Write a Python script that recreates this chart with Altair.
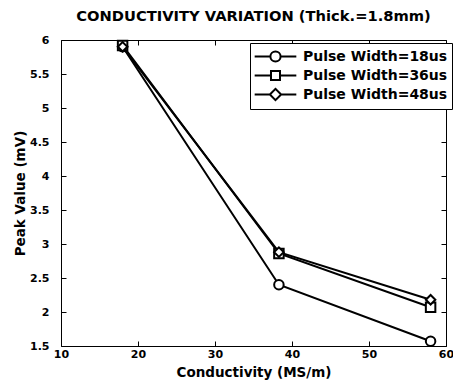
import altair as alt
import pandas as pd

conductivity = [18, 38.3, 58]
pw18 = [5.9, 2.40, 1.57]
pw36 = [5.92, 2.86, 2.07]
pw48 = [5.9, 2.88, 2.18]
series_names = ["Pulse Width=18us", "Pulse Width=36us", "Pulse Width=48us"]
x_ticks = [10, 20, 30, 40, 50, 60]
y_ticks = [1.5, 2, 2.5, 3, 3.5, 4, 4.5, 5, 5.5, 6]

rows = []
for name, vals in zip(series_names, [pw18, pw36, pw48]):
    for x, v in zip(conductivity, vals):
        rows.append({"cond": x, "peak": v, "series": name})
df = pd.DataFrame(rows)

FONT = "DejaVu Sans"
xscale = alt.Scale(domain=[10, 60], nice=False, zero=False)
yscale = alt.Scale(domain=[1.5, 6], nice=False, zero=False)

common = dict(domain=False, grid=False, offset=-5, tickSize=5, tickColor="black",
              tickWidth=1, labelFont=FONT, labelColor="black", labelFontSize=11,
              labelFontWeight="bold", titleFont=FONT, titleColor="black",
              titleFontSize=13.5, titleFontWeight="bold")

xaxis = alt.Axis(values=x_ticks, title="Conductivity (MS/m)", labelPadding=2,
                 titlePadding=6, labelFlush=False, **common)
yaxis = alt.Axis(values=y_ticks, title="Peak Value (mV)", labelPadding=12,
                 titlePadding=2, format="~g", **common)
xaxis_top = alt.Axis(values=x_ticks, title=None, labels=False, orient="top", **common)
yaxis_right = alt.Axis(values=y_ticks, title=None, labels=False, orient="right", **common)

marker_shapes = ["circle", "square", "diamond"]
# legend glyphs: short line with the series marker in its middle (unit = 8.5 px)
legend_paths = [
    "M-2.45,0L-0.6,0M0.6,0L2.45,0M0.6,0A0.6,0.6,0,1,1,-0.6,0A0.6,0.6,0,1,1,0.6,0Z",
    "M-2.45,0L-0.53,0M0.53,0L2.45,0M-0.53,-0.53L0.53,-0.53L0.53,0.53L-0.53,0.53Z",
    "M-2.45,0L-0.66,0M0.66,0L2.45,0M-0.66,0L0,-0.66L0.66,0L0,0.66Z",
]

base = alt.Chart(df)

lines = base.mark_line(color="black", strokeWidth=2).encode(
    x=alt.X("cond:Q", scale=xscale, axis=xaxis),
    y=alt.Y("peak:Q", scale=yscale, axis=yaxis),
    detail="series:N",
)

points = base.mark_point(filled=True, fill="white", stroke="black", strokeWidth=2,
                         size=90, opacity=1).encode(
    x=alt.X("cond:Q", scale=xscale, axis=None),
    y=alt.Y("peak:Q", scale=yscale, axis=None),
    shape=alt.Shape("series:N", scale=alt.Scale(domain=series_names, range=marker_shapes),
                    legend=None),
)

legend_layer = base.mark_point(opacity=0).encode(
    x=alt.X("cond:Q", scale=xscale, axis=xaxis_top),
    y=alt.Y("peak:Q", scale=yscale, axis=yaxis_right),
    shape=alt.Shape("series:N",
                    scale=alt.Scale(domain=series_names, range=legend_paths),
                    legend=alt.Legend(title=None, orient="none", legendX=189, legendY=3,
                                      symbolSize=289, symbolStrokeWidth=2,
                                      symbolStrokeColor="black", symbolFillColor="white",
                                      symbolOpacity=1, symbolOffset=12,
                                      labelFont=FONT, labelFontSize=14,
                                      labelFontWeight="bold", labelColor="black",
                                      strokeColor="black", fillColor="white",
                                      padding=4, rowPadding=-2, labelOffset=18)),
)

chart = alt.layer(lines, points, legend_layer).resolve_axis(
    x="independent", y="independent"
).resolve_scale(shape="independent").properties(
    width=385, height=306,
    padding={"left": 53, "top": 32, "right": 7, "bottom": 35},
    autosize=alt.AutoSizeParams(type="none"),
    title=alt.TitleParams("CONDUCTIVITY VARIATION (Thick.=1.8mm)", font=FONT,
                          fontSize=14.7, fontWeight="bold", color="black", offset=10),
    background="white",
).configure_view(stroke="black", strokeWidth=1)

chart.save("out.html", embed_options={"renderer": "svg", "actions": False})
